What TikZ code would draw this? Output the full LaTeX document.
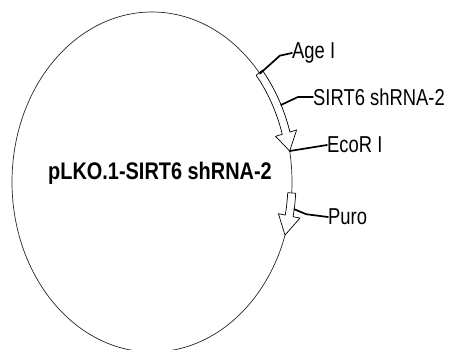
\documentclass[tikz,border=0pt]{standalone}
\usepackage{fontspec}
\setmainfont{Liberation Sans}
\usetikzlibrary{calc}
\newcommand{\narrowtext}[1]{\scalebox{0.8}[1]{#1}}
\begin{document}
\begin{tikzpicture}[x=1pt,y=1pt,line cap=round,line join=round,
	font=\fontsize{23}{27}\selectfont,
	feature/.style={draw,fill=white,line width=0.7pt},
	leader/.style={line width=1.7pt},
	site/.style={anchor=west,inner sep=0pt}]
	\useasboundingbox (0,0) rectangle (449,349);
	\coordinate (c) at (152,167);
	\begin{scope}
		\clip (0,0) rectangle (449,349);
		\draw[line width=0.7pt,black!85] (c) ellipse [x radius=140,y radius=170];
	\end{scope}
	% shRNA insert
	\draw[feature] (c) ++(40:144 and 174) arc[start angle=40,end angle=16.7,x radius=144,y radius=174]
		-- ($(c)+(16.7:151 and 181)$) -- ($(c)+(10.5:140 and 170)$)
		-- ($(c)+(16.7:129 and 159)$) -- ($(c)+(16.7:136 and 166)$)
		arc[start angle=16.7,end angle=40,x radius=136,y radius=166] -- cycle;
	% puromycin resistance
	\draw[feature] (c) ++(-3.7:144 and 174) arc[start angle=-3.7,end angle=-11.5,x radius=144,y radius=174]
		-- ($(c)+(-11.5:151 and 181)$) -- ($(c)+(-18.2:140 and 170)$)
		-- ($(c)+(-11.5:129 and 159)$) -- ($(c)+(-11.5:136 and 166)$)
		arc[start angle=-11.5,end angle=-3.7,x radius=136,y radius=166] -- cycle;
	\coordinate (agei-site) at ($(c)+(39.6:140 and 170)$);
	\coordinate (shrna-site) at ($(c)+(26.3:144 and 174)$);
	\coordinate (ecori-site) at ($(c)+(10.5:140 and 170)$);
	\coordinate (puro-site) at ($(c)+(-9:144 and 174)$);
	\node (agei) [site] at (292,296) {\narrowtext{Age I}};
	\node (shrna) [site] at (313,252) {\narrowtext{SIRT6 shRNA-2}};
	\node (ecori) [site] at (327,204) {\narrowtext{EcoR I}};
	\node (puro) [site] at (328,132) {\narrowtext{Puro}};
	\draw[leader] (agei-site) -- ++(20,18) -- (agei.west);
	\draw[leader] (shrna-site) -- ++(17,8) -- (shrna.west);
	\draw[leader] (ecori-site) -- (ecori.west);
	\draw[leader] (puro-site) -- ++(12,-5) -- (puro.west);
	\node (plasmid) [font=\fontsize{24}{28}\selectfont\bfseries] at (160,176) {\scalebox{0.83}[1]{pLKO.1-SIRT6 shRNA-2}};
\end{tikzpicture}
\end{document}
